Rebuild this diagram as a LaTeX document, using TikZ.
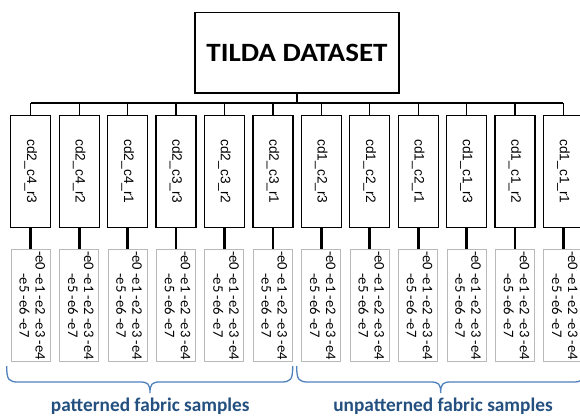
\documentclass[tikz,border=0pt]{standalone}
\usepackage{fontspec}
\newfontfamily\carlito{Carlito}
\newfontfamily\arialfam{Liberation Sans}
\definecolor{bracecol}{RGB}{79,129,189}
\definecolor{labcol}{RGB}{36,80,128}
\definecolor{leafgray}{RGB}{185,185,185}
\tikzset{
  titlebox/.style={draw, line width=1.3pt, minimum width=204pt, minimum height=80.3pt,
    inner sep=0pt, anchor=north},
  groupbox/.style={draw, line width=1.3pt, minimum width=40pt, minimum height=111.7pt,
    inner sep=0pt, anchor=north, font=\arialfam\fontsize{13.7}{16}\selectfont},
  leafbox/.style={draw=leafgray, line width=1pt, minimum width=39pt, minimum height=112pt,
    inner sep=0pt, anchor=north, font=\carlito\fontsize{14.6}{16}\selectfont},
  bus/.style={line width=1.3pt},
  stem/.style={line width=2.7pt},
  bracepath/.style={draw=bracecol, line width=1.3pt},
  grouplabel/.style={text=labcol, font=\carlito\bfseries\fontsize{19.3}{23}\selectfont,
    anchor=base, inner sep=0pt}
}
\begin{document}
\begin{tikzpicture}[x=1pt,y=-1pt]
  \useasboundingbox (0,0) rectangle (580,418);
  \fill[white] (0,0) rectangle (580,418);
  \clip (0,0) rectangle (580,418);

  % root
  \node[titlebox] (T) at (297,12)
    {\carlito\bfseries\fontsize{26.4}{30}\selectfont\scalebox{1.1}[1]{TILDA DATASET}};
  \coordinate (bus) at (297,103);
  \draw[bus] (T.south) -- (bus);

  % recording groups and their sample boxes
  \foreach \lab [count=\i] in {cd2\_c4\_r3, cd2\_c4\_r2, cd2\_c4\_r1, cd2\_c3\_r3,
      cd2\_c3\_r2, cd2\_c3\_r1, cd1\_c2\_r3, cd1\_c2\_r2, cd1\_c2\_r1, cd1\_c1\_r3,
      cd1\_c1\_r2, cd1\_c1\_r1} {
    \pgfmathsetmacro\cx{30.8+48.42*(\i-1)}
    \node[groupbox] (g\i) at (\cx,115) {\rotatebox{-90}{\lab}};
    \node[leafbox] (l\i) at (\cx,249)
      {\rotatebox{-90}{\begin{tabular}{@{}c@{}}-e0 -e1 -e2 -e3 -e4\\ -e5 -e6 -e7\end{tabular}}};
    \draw[stem] (g\i.south) -- (l\i.north);
    \draw[bus] (g\i.north) -- (g\i.north |- bus);
  }
  \draw[bus] (g1.north |- bus) -- (g12.north |- bus);

  % group braces
  \draw[bracepath] (6.7,366) .. controls (6.7,380) and (8.7,382) .. (18.7,382)
    -- (140,382) .. controls (148,382) and (150,384) .. (150,393)
    .. controls (150,384) and (152,382) .. (160,382)
    -- (280.7,382) .. controls (290.7,382) and (292.7,380) .. (292.7,366);
  \draw[bracepath] (296.7,366) .. controls (296.7,380) and (298.7,382) .. (308.7,382)
    -- (430.7,382) .. controls (438.7,382) and (440.7,384) .. (440.7,393)
    .. controls (440.7,384) and (442.7,382) .. (450.7,382)
    -- (572.7,382) .. controls (582.7,382) and (584.7,380) .. (584.7,366);

  \node[grouplabel] (pl) at (150.3,411.7) {patterned fabric samples};
  \node[grouplabel] (ul) at (443,411.7) {unpatterned fabric samples};
\end{tikzpicture}
\end{document}
